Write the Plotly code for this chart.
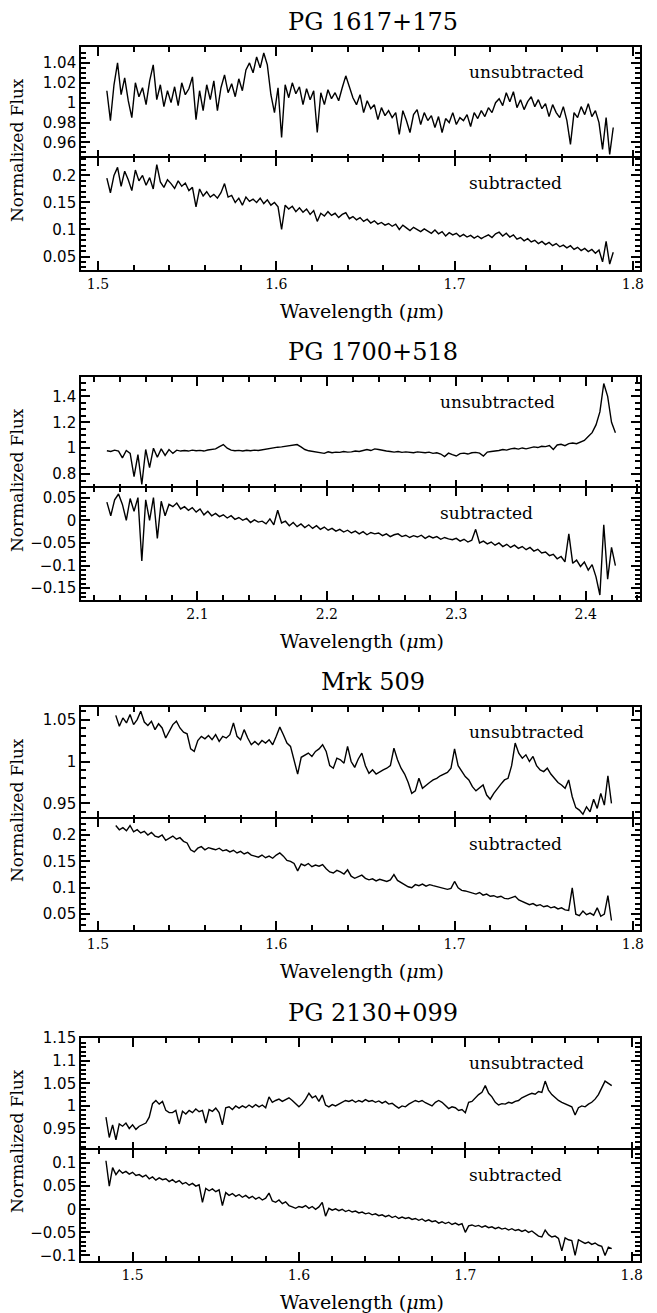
import plotly.graph_objects as go

# ---- data (wavelength in micron, normalized flux) ----

# PG 1617+175
wl_1617 = [
    1.505, 1.507, 1.509, 1.511, 1.513, 1.515, 1.517, 1.519, 1.521, 1.523,
    1.525, 1.527, 1.529, 1.531, 1.533, 1.535, 1.537, 1.539, 1.541, 1.543,
    1.545, 1.547, 1.549, 1.551, 1.553, 1.555, 1.557, 1.559, 1.561, 1.563,
    1.565, 1.567, 1.569, 1.571, 1.573, 1.575, 1.577, 1.579, 1.581, 1.583,
    1.585, 1.587, 1.589, 1.591, 1.593, 1.595, 1.597, 1.599, 1.601, 1.603,
    1.605, 1.607, 1.609, 1.611, 1.613, 1.615, 1.617, 1.619, 1.621, 1.623,
    1.625, 1.627, 1.629, 1.631, 1.633, 1.635, 1.637, 1.639, 1.641, 1.643,
    1.645, 1.647, 1.649, 1.651, 1.653, 1.655, 1.657, 1.659, 1.661, 1.663,
    1.665, 1.667, 1.669, 1.671, 1.673, 1.675, 1.677, 1.679, 1.681, 1.683,
    1.685, 1.687, 1.689, 1.691, 1.693, 1.695, 1.697, 1.699, 1.701, 1.703,
    1.705, 1.707, 1.709, 1.711, 1.713, 1.715, 1.717, 1.719, 1.721, 1.723,
    1.725, 1.727, 1.729, 1.731, 1.733, 1.735, 1.737, 1.739, 1.741, 1.743,
    1.745, 1.747, 1.749, 1.751, 1.753, 1.755, 1.757, 1.759, 1.761, 1.763,
    1.765, 1.767, 1.769, 1.771, 1.773, 1.775, 1.777, 1.779, 1.781, 1.783,
    1.785, 1.787, 1.789,
]
unsub_1617 = [
    1.012, 0.982, 1.018, 1.040, 1.008, 1.025, 1.002, 0.985, 1.020, 1.006,
    1.015, 0.998, 1.022, 1.038, 1.003, 1.018, 0.996, 1.012, 1.000, 1.016,
    0.997, 1.020, 1.008, 1.014, 1.026, 0.983, 1.012, 0.992, 1.018, 1.003,
    1.022, 0.992, 1.015, 1.028, 1.010, 1.019, 1.006, 1.024, 1.012, 1.033,
    1.040, 1.030, 1.046, 1.035, 1.050, 1.038, 1.008, 0.990, 1.015, 0.965,
    1.018, 1.005, 1.020, 1.009, 1.016, 0.998, 1.014, 1.003, 1.012, 0.970,
    1.010, 0.998, 1.013, 1.004, 1.010, 1.002, 1.015, 1.027, 1.016, 1.005,
    0.998, 1.008, 0.990, 1.002, 0.994, 0.998, 0.983, 0.995, 0.987, 0.992,
    0.985, 0.990, 0.968, 0.992, 0.982, 0.970, 0.988, 0.993, 0.978, 0.990,
    0.982, 0.987, 0.975, 0.986, 0.970, 0.984, 0.980, 0.990, 0.978, 0.985,
    0.982, 0.988, 0.976, 0.990, 0.984, 0.992, 0.986, 0.995, 0.990, 1.000,
    1.004, 0.997, 1.010, 1.001, 1.011, 0.995, 1.003, 0.993, 1.001, 1.006,
    0.996, 1.003, 0.994, 0.999, 0.986, 0.998, 0.990, 0.985, 0.996, 0.982,
    0.958, 0.990, 0.985, 0.996, 0.988, 0.999, 0.986, 0.992, 0.980, 0.953,
    0.985, 0.948, 0.975,
]
sub_1617 = [
    0.195, 0.168, 0.200, 0.215, 0.180, 0.208, 0.192, 0.172, 0.210, 0.190,
    0.200, 0.182, 0.196, 0.175, 0.220, 0.188, 0.178, 0.192, 0.185, 0.176,
    0.190, 0.180, 0.186, 0.172, 0.178, 0.142, 0.175, 0.162, 0.170, 0.160,
    0.165, 0.158, 0.168, 0.185, 0.160, 0.163, 0.150, 0.158, 0.145, 0.160,
    0.152, 0.156, 0.150, 0.158, 0.148, 0.155, 0.145, 0.150, 0.142, 0.100,
    0.145, 0.138, 0.143, 0.133, 0.140, 0.132, 0.138, 0.128, 0.135, 0.115,
    0.130, 0.125, 0.133, 0.126, 0.130, 0.122, 0.128, 0.131, 0.120, 0.124,
    0.118, 0.122, 0.115, 0.119, 0.112, 0.116, 0.110, 0.113, 0.108, 0.111,
    0.106, 0.110, 0.100, 0.108, 0.103, 0.098, 0.104, 0.100, 0.096, 0.101,
    0.097, 0.093, 0.099, 0.092, 0.096, 0.088, 0.094, 0.090, 0.093, 0.087,
    0.091, 0.086, 0.089, 0.084, 0.088, 0.083, 0.087, 0.090, 0.085, 0.092,
    0.095, 0.088, 0.093, 0.086, 0.090, 0.082, 0.085, 0.079, 0.083, 0.077,
    0.080, 0.074, 0.078, 0.072, 0.076, 0.070, 0.074, 0.068, 0.071, 0.066,
    0.070, 0.063, 0.067, 0.061, 0.065, 0.059, 0.063, 0.056, 0.062, 0.040,
    0.078, 0.036, 0.058,
]

# PG 1700+518
wl_1700 = [
    2.030, 2.033, 2.036, 2.039, 2.042, 2.045, 2.048, 2.051, 2.054, 2.057,
    2.060, 2.063, 2.066, 2.069, 2.072, 2.075, 2.078, 2.081, 2.084, 2.087,
    2.090, 2.093, 2.096, 2.099, 2.102, 2.105, 2.108, 2.111, 2.114, 2.117,
    2.120, 2.123, 2.126, 2.129, 2.132, 2.135, 2.138, 2.141, 2.144, 2.147,
    2.150, 2.153, 2.156, 2.159, 2.162, 2.165, 2.168, 2.171, 2.174, 2.177,
    2.180, 2.183, 2.186, 2.189, 2.192, 2.195, 2.198, 2.201, 2.204, 2.207,
    2.210, 2.213, 2.216, 2.219, 2.222, 2.225, 2.228, 2.231, 2.234, 2.237,
    2.240, 2.243, 2.246, 2.249, 2.252, 2.255, 2.258, 2.261, 2.264, 2.267,
    2.270, 2.273, 2.276, 2.279, 2.282, 2.285, 2.288, 2.291, 2.294, 2.297,
    2.300, 2.303, 2.306, 2.309, 2.312, 2.315, 2.318, 2.321, 2.324, 2.327,
    2.330, 2.333, 2.336, 2.339, 2.342, 2.345, 2.348, 2.351, 2.354, 2.357,
    2.360, 2.363, 2.366, 2.369, 2.372, 2.375, 2.378, 2.381, 2.384, 2.387,
    2.390, 2.393, 2.396, 2.399, 2.402, 2.405, 2.408, 2.411, 2.414, 2.417,
    2.420, 2.423,
]
unsub_1700 = [
    0.980, 0.975, 0.985, 0.978, 0.925, 0.982, 0.960, 0.780, 0.950, 0.720,
    0.990, 0.850, 1.000, 0.930, 0.995, 0.945, 0.990, 0.960, 0.985, 0.978,
    0.982, 0.978, 0.985, 0.980, 0.983, 0.978, 0.986, 0.990, 0.995, 1.012,
    1.028, 1.000, 0.985, 0.980, 0.983, 0.978, 0.984, 0.980, 0.985, 0.982,
    0.988, 0.990, 0.995, 1.000, 1.008, 1.010, 1.015, 1.020, 1.025, 1.028,
    1.010, 0.990, 0.980, 0.975, 0.970, 0.968, 0.960, 0.972, 0.965, 0.970,
    0.968, 0.975, 0.970, 0.972, 0.978, 0.975, 0.985, 0.990, 0.982, 0.995,
    0.990, 0.982, 0.978, 0.975, 0.970, 0.975, 0.968, 0.972, 0.970, 0.965,
    0.972, 0.968, 0.965, 0.970, 0.960, 0.965, 0.955, 0.935, 0.962, 0.950,
    0.940, 0.958, 0.962, 0.955, 0.965, 0.968, 0.962, 0.940, 0.970, 0.975,
    0.978, 0.982, 0.990, 0.985, 0.995, 1.000, 0.993, 1.002, 0.995, 1.005,
    1.010, 1.005, 1.015, 1.012, 1.020, 0.990, 1.025, 1.030, 1.020, 1.035,
    1.040, 1.035, 1.050, 1.060, 1.090, 1.120, 1.180, 1.280, 1.500, 1.400,
    1.200, 1.120,
]
sub_1700 = [
    0.040, 0.010, 0.045, 0.058, 0.035, 0.000, 0.048, 0.020, 0.050, -0.090,
    0.045, 0.000, 0.050, -0.040, 0.042, 0.010, 0.035, 0.030, 0.038, 0.025,
    0.030, 0.022, 0.028, 0.018, 0.025, 0.012, 0.020, 0.010, 0.015, 0.008,
    0.012, 0.005, 0.010, 0.002, 0.006, 0.000, 0.004, -0.005, 0.001, -0.004,
    -0.002, -0.008, 0.003, -0.010, 0.022, -0.006, -0.002, -0.012, -0.005, -0.014,
    -0.008, -0.016, -0.010, -0.018, -0.012, -0.020, -0.015, -0.022, -0.018, -0.024,
    -0.020, -0.026, -0.022, -0.028, -0.024, -0.030, -0.025, -0.032, -0.027, -0.030,
    -0.028, -0.034, -0.030, -0.036, -0.032, -0.030, -0.036, -0.033, -0.038, -0.034,
    -0.037, -0.033, -0.040, -0.035, -0.039, -0.036, -0.042, -0.038, -0.041, -0.043,
    -0.040, -0.046, -0.042, -0.048, -0.044, -0.020, -0.050, -0.046, -0.052, -0.048,
    -0.055, -0.050, -0.058, -0.053, -0.060, -0.055, -0.062, -0.058, -0.065, -0.060,
    -0.068, -0.064, -0.072, -0.070, -0.078, -0.075, -0.085, -0.080, -0.092, -0.030,
    -0.095, -0.088, -0.102, -0.092, -0.110, -0.098, -0.125, -0.165, -0.010, -0.130,
    -0.060, -0.100,
]

# Mrk 509
wl_509 = [
    1.510, 1.512, 1.514, 1.516, 1.518, 1.520, 1.522, 1.524, 1.526, 1.528,
    1.530, 1.532, 1.534, 1.536, 1.538, 1.540, 1.542, 1.544, 1.546, 1.548,
    1.550, 1.552, 1.554, 1.556, 1.558, 1.560, 1.562, 1.564, 1.566, 1.568,
    1.570, 1.572, 1.574, 1.576, 1.578, 1.580, 1.582, 1.584, 1.586, 1.588,
    1.590, 1.592, 1.594, 1.596, 1.598, 1.600, 1.602, 1.604, 1.606, 1.608,
    1.610, 1.612, 1.614, 1.616, 1.618, 1.620, 1.622, 1.624, 1.626, 1.628,
    1.630, 1.632, 1.634, 1.636, 1.638, 1.640, 1.642, 1.644, 1.646, 1.648,
    1.650, 1.652, 1.654, 1.656, 1.658, 1.660, 1.662, 1.664, 1.666, 1.668,
    1.670, 1.672, 1.674, 1.676, 1.678, 1.680, 1.682, 1.684, 1.686, 1.688,
    1.690, 1.692, 1.694, 1.696, 1.698, 1.700, 1.702, 1.704, 1.706, 1.708,
    1.710, 1.712, 1.714, 1.716, 1.718, 1.720, 1.722, 1.724, 1.726, 1.728,
    1.730, 1.732, 1.734, 1.736, 1.738, 1.740, 1.742, 1.744, 1.746, 1.748,
    1.750, 1.752, 1.754, 1.756, 1.758, 1.760, 1.762, 1.764, 1.766, 1.768,
    1.770, 1.772, 1.774, 1.776, 1.778, 1.780, 1.782, 1.784, 1.786, 1.788,
]
unsub_509 = [
    1.055, 1.042, 1.052, 1.046, 1.056, 1.044, 1.050, 1.060, 1.047, 1.043,
    1.048, 1.038, 1.045, 1.040, 1.028, 1.036, 1.044, 1.048, 1.040, 1.035,
    1.033, 1.015, 1.012, 1.025, 1.030, 1.027, 1.031, 1.026, 1.032, 1.024,
    1.030, 1.028, 1.032, 1.046, 1.030, 1.026, 1.038, 1.028, 1.020, 1.024,
    1.020, 1.025, 1.022, 1.026, 1.020, 1.030, 1.041, 1.032, 1.022, 1.018,
    1.000, 0.985, 1.005, 1.008, 1.010, 1.006, 1.012, 1.015, 1.020, 1.012,
    0.995, 0.992, 1.004, 1.002, 0.998, 1.018, 1.000, 0.993, 1.003, 1.010,
    0.995, 0.986, 0.990, 0.985, 0.988, 0.990, 0.992, 0.995, 1.016, 1.002,
    0.992, 0.985, 0.975, 0.962, 0.965, 0.980, 0.968, 0.972, 0.975, 0.978,
    0.980, 0.983, 0.985, 0.987, 0.992, 1.015, 0.995, 0.988, 0.982, 0.978,
    0.970, 0.965, 0.968, 0.972, 0.960, 0.955, 0.962, 0.968, 0.973, 0.978,
    0.980, 0.995, 1.022, 1.010, 1.004, 1.008, 1.000, 1.006, 0.995, 0.990,
    0.988, 0.992, 0.985, 0.980, 0.975, 0.972, 0.968, 0.978, 0.958, 0.945,
    0.942, 0.937, 0.946, 0.940, 0.955, 0.944, 0.962, 0.948, 0.983, 0.950,
]
sub_509 = [
    0.218, 0.210, 0.214, 0.208, 0.218, 0.206, 0.210, 0.204, 0.207, 0.200,
    0.205, 0.198, 0.196, 0.200, 0.190, 0.194, 0.198, 0.192, 0.195, 0.188,
    0.185, 0.172, 0.168, 0.175, 0.178, 0.172, 0.176, 0.174, 0.172, 0.175,
    0.170, 0.172, 0.168, 0.171, 0.166, 0.169, 0.164, 0.167, 0.162, 0.160,
    0.158, 0.162, 0.157, 0.160, 0.156, 0.162, 0.166, 0.160, 0.152, 0.150,
    0.146, 0.132, 0.145, 0.142, 0.146, 0.140, 0.143, 0.141, 0.144, 0.136,
    0.130, 0.128, 0.133, 0.130, 0.126, 0.134, 0.122, 0.118, 0.121, 0.124,
    0.118, 0.115, 0.117, 0.113, 0.116, 0.114, 0.112, 0.115, 0.125, 0.114,
    0.110, 0.106, 0.102, 0.100, 0.106, 0.104, 0.107, 0.103, 0.106, 0.104,
    0.102, 0.100, 0.098, 0.097, 0.099, 0.112, 0.100, 0.095, 0.094, 0.092,
    0.090, 0.088, 0.091, 0.086, 0.088, 0.084, 0.085, 0.082, 0.084, 0.080,
    0.079, 0.081, 0.084, 0.077, 0.074, 0.071, 0.068, 0.070, 0.066, 0.068,
    0.064, 0.066, 0.062, 0.064, 0.060, 0.062, 0.058, 0.057, 0.100, 0.050,
    0.047, 0.056, 0.049, 0.052, 0.048, 0.062, 0.046, 0.050, 0.085, 0.038,
]

# PG 2130+099
wl_2130 = [
    1.484, 1.486, 1.488, 1.490, 1.492, 1.494, 1.496, 1.498, 1.500, 1.502,
    1.504, 1.506, 1.508, 1.510, 1.512, 1.514, 1.516, 1.518, 1.520, 1.522,
    1.524, 1.526, 1.528, 1.530, 1.532, 1.534, 1.536, 1.538, 1.540, 1.542,
    1.544, 1.546, 1.548, 1.550, 1.552, 1.554, 1.556, 1.558, 1.560, 1.562,
    1.564, 1.566, 1.568, 1.570, 1.572, 1.574, 1.576, 1.578, 1.580, 1.582,
    1.584, 1.586, 1.588, 1.590, 1.592, 1.594, 1.596, 1.598, 1.600, 1.602,
    1.604, 1.606, 1.608, 1.610, 1.612, 1.614, 1.616, 1.618, 1.620, 1.622,
    1.624, 1.626, 1.628, 1.630, 1.632, 1.634, 1.636, 1.638, 1.640, 1.642,
    1.644, 1.646, 1.648, 1.650, 1.652, 1.654, 1.656, 1.658, 1.660, 1.662,
    1.664, 1.666, 1.668, 1.670, 1.672, 1.674, 1.676, 1.678, 1.680, 1.682,
    1.684, 1.686, 1.688, 1.690, 1.692, 1.694, 1.696, 1.698, 1.700, 1.702,
    1.704, 1.706, 1.708, 1.710, 1.712, 1.714, 1.716, 1.718, 1.720, 1.722,
    1.724, 1.726, 1.728, 1.730, 1.732, 1.734, 1.736, 1.738, 1.740, 1.742,
    1.744, 1.746, 1.748, 1.750, 1.752, 1.754, 1.756, 1.758, 1.760, 1.762,
    1.764, 1.766, 1.768, 1.770, 1.772, 1.774, 1.776, 1.778, 1.780, 1.782,
    1.784, 1.786, 1.788,
]
unsub_2130 = [
    0.975, 0.930, 0.958, 0.925, 0.960, 0.955, 0.962, 0.950, 0.958, 0.948,
    0.955, 0.958, 0.962, 0.975, 1.005, 1.012, 1.004, 1.010, 0.990, 0.985,
    0.985, 0.990, 0.960, 0.988, 0.982, 0.990, 0.985, 0.993, 0.987, 0.990,
    0.962, 0.992, 0.988, 0.995, 0.985, 0.958, 0.996, 0.998, 0.992, 1.000,
    0.995, 1.000, 0.996, 1.002, 0.997, 1.003, 0.998, 1.002, 0.996, 1.020,
    1.008, 1.012, 1.015, 1.010, 1.014, 1.018, 1.012, 1.005, 0.998, 1.005,
    1.015, 1.028, 1.018, 1.022, 1.010, 1.024, 1.002, 0.998, 1.003, 1.000,
    1.004, 1.008, 1.012, 1.010, 1.013, 1.008, 1.012, 1.009, 1.014, 1.010,
    1.012, 1.008, 1.011, 1.006, 1.010, 1.004, 1.006, 1.000, 0.995, 1.000,
    0.998, 1.004, 1.008, 1.012, 1.009, 1.012, 1.007, 1.004, 1.000, 1.008,
    1.012, 1.008, 1.000, 0.994, 0.998, 0.996, 0.990, 0.992, 0.985, 1.008,
    1.010, 1.018, 1.025, 1.030, 1.045, 1.028, 1.020, 1.008, 1.002, 1.005,
    1.004, 1.008, 1.006, 1.010, 1.012, 1.018, 1.022, 1.025, 1.028, 1.026,
    1.032, 1.030, 1.055, 1.035, 1.025, 1.018, 1.012, 1.008, 1.005, 1.002,
    0.998, 0.980, 0.996, 1.000, 0.998, 1.004, 1.008, 1.015, 1.025, 1.040,
    1.055, 1.050, 1.045,
]
sub_2130 = [
    0.105, 0.050, 0.090, 0.075, 0.085, 0.078, 0.082, 0.076, 0.080, 0.073,
    0.075, 0.070, 0.074, 0.066, 0.070, 0.063, 0.068, 0.064, 0.066, 0.060,
    0.064, 0.058, 0.062, 0.055, 0.058, 0.052, 0.056, 0.050, 0.053, 0.015,
    0.045, 0.040, 0.044, 0.038, 0.042, 0.008, 0.036, 0.030, 0.034, 0.028,
    0.032, 0.026, 0.030, 0.024, 0.028, 0.022, 0.026, 0.020, 0.024, 0.035,
    0.018, 0.015, 0.020, 0.012, 0.016, 0.008, 0.005, 0.002, 0.006, 0.004,
    0.008, 0.002, 0.006, 0.000, 0.005, 0.015, -0.015, 0.002, -0.002, 0.001,
    -0.003, 0.000, -0.005, -0.002, -0.006, -0.004, -0.008, -0.006, -0.010, -0.008,
    -0.012, -0.010, -0.014, -0.012, -0.016, -0.013, -0.018, -0.015, -0.020, -0.017,
    -0.020, -0.018, -0.022, -0.020, -0.024, -0.021, -0.026, -0.023, -0.027, -0.025,
    -0.030, -0.027, -0.031, -0.028, -0.033, -0.030, -0.034, -0.031, -0.050, -0.036,
    -0.034, -0.037, -0.035, -0.039, -0.036, -0.040, -0.038, -0.042, -0.039, -0.043,
    -0.041, -0.045, -0.042, -0.046, -0.044, -0.048, -0.045, -0.050, -0.047, -0.053,
    -0.058, -0.060, -0.045, -0.055, -0.060, -0.058, -0.063, -0.090, -0.062, -0.066,
    -0.068, -0.100, -0.066, -0.070, -0.074, -0.071, -0.076, -0.073, -0.078, -0.080,
    -0.100, -0.082, -0.085,
]

names = ["PG 1617+175", "PG 1700+518", "Mrk 509", "PG 2130+099"]
wavelengths = [wl_1617, wl_1700, wl_509, wl_2130]
unsubtracted = [unsub_1617, unsub_1700, unsub_509, unsub_2130]
subtracted = [sub_1617, sub_1700, sub_509, sub_2130]

# ---- layout settings (pixel geometry of the page) ----
W, H = 657, 1313
OFF = 8  # the page body puts the figure 8 px in from the window edge
LEFT, RIGHT = 81, 640
# (top, divider, bottom) of each stacked pair, in pixels from the top
frames = [(47, 158, 270), (377, 488, 600), (707, 819, 930), (1038, 1150, 1261)]
x_ranges = [(1.4905, 1.804), (2.010, 2.442), (1.4905, 1.804), (1.469, 1.805)]
top_y = [  # range, major step, minor step
    ((0.944, 1.056), 0.02, 0.005),
    ((0.69, 1.55), 0.2, 0.05),
    ((0.931, 1.065), 0.05, 0.01),
    ((0.9015, 1.1505), 0.05, 0.01),
]
bot_y = [
    ((0.025, 0.233), 0.05, 0.01),
    ((-0.176, 0.072), 0.05, 0.01),
    ((0.020, 0.231), 0.05, 0.01),
    ((-0.112, 0.129), 0.05, 0.01),
]
label_x = [467, 438, 467, 467]
OVERLAP = 0.7  # let the two panels share part of the divider line

SERIF = "DejaVu Serif"
SANS = "DejaVu Sans"


def fx(p):
    return (p - OFF) / W


def fy(p):
    return 1 - (p - OFF) / H


fig = go.Figure()
layout = {}
annotations = []

for k in range(4):
    top, mid, bot = frames[k]
    for j, (ys, yset, dom) in enumerate([
        (unsubtracted[k], top_y[k], (fy(mid + OVERLAP / 2), fy(top))),
        (subtracted[k], bot_y[k], (fy(bot), fy(mid - OVERLAP / 2))),
    ]):
        n = 2 * k + j + 1
        sfx = "" if n == 1 else str(n)
        fig.add_trace(go.Scatter(
            x=wavelengths[k], y=ys, mode="lines",
            line=dict(color="black", width=1.4),
            xaxis="x" + sfx, yaxis="y" + sfx, showlegend=False,
        ))
        yr, ydt, ymin = yset
        layout["xaxis" + sfx] = dict(
            domain=[fx(LEFT), fx(RIGHT)], range=list(x_ranges[k]),
            anchor="y" + sfx, automargin=False, showgrid=False, zeroline=False,
            showline=True, linecolor="black", linewidth=1.6, mirror="ticks",
            ticks="inside", ticklen=9, tickwidth=1.8, tickcolor="black",
            tick0=0, dtick=0.1,
            minor=dict(ticks="inside", ticklen=5, tickwidth=1.5, tickcolor="black",
                       tick0=0, dtick=0.02),
            showticklabels=(j == 1),
            tickfont=dict(family=SERIF, size=14, color="black"),
        )
        layout["yaxis" + sfx] = dict(
            domain=list(dom), range=list(yr), anchor="x" + sfx,
            automargin=False, showgrid=False, zeroline=False,
            showline=True, linecolor="black", linewidth=1.6, mirror="ticks",
            ticks="inside", ticklen=9, tickwidth=1.8, tickcolor="black",
            tick0=0, dtick=ydt,
            minor=dict(ticks="inside", ticklen=5, tickwidth=1.5, tickcolor="black",
                       tick0=0, dtick=ymin),
            tickfont=dict(family=SANS, size=15, color="black"),
        )

    annotations += [
        dict(text=names[k], x=fx(373), y=fy(top - 25), xref="paper", yref="paper",
             showarrow=False, xanchor="center", yanchor="middle",
             font=dict(family=SERIF, size=24, color="black")),
        dict(text="unsubtracted", x=fx(label_x[k]), y=fy(top + 25),
             xref="paper", yref="paper", showarrow=False,
             xanchor="left", yanchor="middle",
             font=dict(family=SERIF, size=17, color="black")),
        dict(text="subtracted", x=fx(label_x[k]), y=fy(mid + 25),
             xref="paper", yref="paper", showarrow=False,
             xanchor="left", yanchor="middle",
             font=dict(family=SERIF, size=17, color="black")),
        dict(text="Wavelength (<i>μ</i>m)", x=fx(362), y=fy(bot + 41),
             xref="paper", yref="paper", showarrow=False,
             xanchor="center", yanchor="middle",
             font=dict(family=SERIF, size=19, color="black")),
        dict(text="Normalized Flux", x=fx(17), y=fy(top + 103),
             xref="paper", yref="paper", showarrow=False, textangle=-90,
             xanchor="center", yanchor="middle",
             font=dict(family=SERIF, size=17, color="black")),
    ]

fig.update_layout(
    width=W, height=H,
    margin=dict(l=0, r=0, t=0, b=0),
    paper_bgcolor="white", plot_bgcolor="white",
    annotations=annotations,
    **layout,
)

fig.write_html("out.html")
